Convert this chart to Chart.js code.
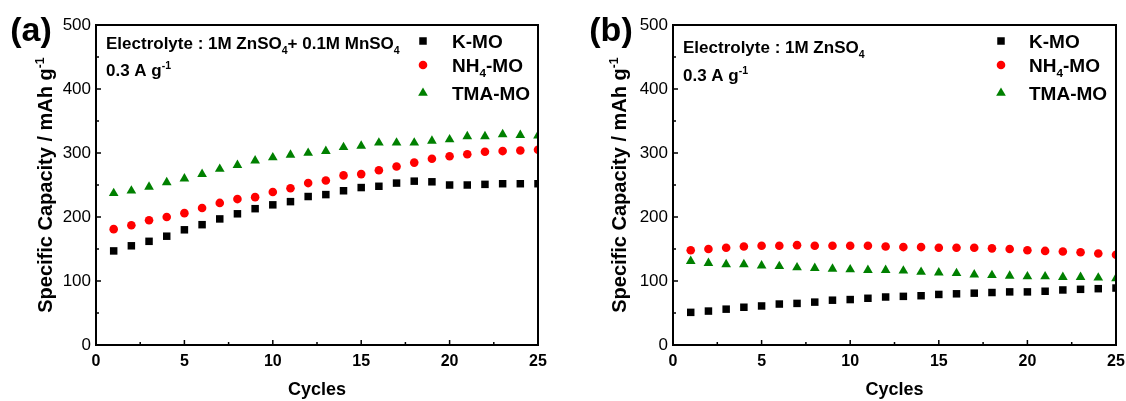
<!DOCTYPE html>
<html>
<head>
<meta charset="utf-8">
<script src="https://cdn.jsdelivr.net/npm/chart.js@4.4.1/dist/chart.umd.min.js"></script>
<style>
html, body { margin: 0; padding: 0; background: #fff; overflow: hidden; }
#wrap { position: relative; width: 1126px; height: 401px; }
canvas { position: absolute; top: 0; }
#chartA { left: 0; }
#chartB { left: 563px; }
</style>
</head>
<body>
<div id="wrap">
	<canvas id="chartA" width="563" height="401"></canvas>
	<canvas id="chartB" width="563" height="401"></canvas>
</div>
<script>
// cycle numbers shared by both panels
const cycles = [1, 2, 3, 4, 5, 6, 7, 8, 9, 10, 11, 12, 13, 14, 15, 16, 17, 18, 19, 20, 21, 22, 23, 24, 25];

// (a) 1M ZnSO4 + 0.1M MnSO4
const kmoA = [147, 155, 162, 170, 180, 188, 197, 205, 213, 219, 224, 232, 235, 241, 246, 248, 253, 256, 255, 250, 250, 251, 252, 252, 252];
const nh4A = [181, 187, 195, 200, 206, 214, 222, 228, 231, 239, 245, 253, 257, 265, 267, 273, 279, 285, 291, 295, 298, 302, 303, 304, 305];
const tmaA = [237, 241, 247, 254, 260, 267, 275, 281, 288, 293, 297, 300, 303, 309, 311, 316, 316, 316, 319, 321, 326, 326, 329, 328, 327];

// (b) 1M ZnSO4
const kmoB = [51, 53, 56, 59, 61, 64, 65, 67, 70, 71, 73, 75, 76, 77, 79, 80, 81, 82, 83, 83, 84, 86, 87, 88, 89];
const nh4B = [148, 150, 152, 154, 155, 155, 156, 155, 155, 155, 155, 154, 153, 153, 152, 152, 152, 151, 150, 148, 147, 146, 145, 143, 141];
const tmaB = [131, 128, 126, 126, 124, 123, 121, 120, 119, 118, 117, 117, 116, 114, 113, 112, 110, 109, 108, 107, 107, 106, 106, 105, 104];

const seriesNames = ['K-MO', 'NH4-MO', 'TMA-MO'];
const xTicks = [0, 5, 10, 15, 20, 25];
const yTicks = [0, 100, 200, 300, 400, 500];

const FONT = "'Liberation Sans', Arial, sans-serif";
Chart.defaults.font.family = FONT;
Chart.defaults.color = '#000';

// rich text: list of [text, kind] where kind is '', 'sub' or 'sup'
function drawRich(ctx, x, y, segs, size, weight) {
	let cx = x;
	for (const [t, kind] of segs) {
		const s = kind ? size * 0.62 : size;
		ctx.font = `${weight} ${s}px ${FONT}`;
		const dy = kind === 'sub' ? size * 0.26 : kind === 'sup' ? -size * 0.42 : 0;
		ctx.fillText(t, cx, y + dy);
		cx += ctx.measureText(t).width;
	}
	return cx - x;
}

function richWidth(ctx, segs, size, weight) {
	let w = 0;
	for (const [t, kind] of segs) {
		ctx.font = `${weight} ${kind ? size * 0.62 : size}px ${FONT}`;
		w += ctx.measureText(t).width;
	}
	return w;
}

function drawMarker(ctx, style, r, x, y, color) {
	ctx.fillStyle = color;
	ctx.beginPath();
	if (style === 'rect') {
		const h = r * Math.SQRT1_2;
		ctx.rect(x - h, y - h, 2 * h, 2 * h);
	} else if (style === 'triangle') {
		let rad = 0;
		for (let i = 0; i < 3; i++) {
			const px = x + Math.sin(rad) * r;
			const py = y - Math.cos(rad) * r;
			if (i === 0) ctx.moveTo(px, py); else ctx.lineTo(px, py);
			rad += Math.PI * 2 / 3;
		}
		ctx.closePath();
	} else {
		ctx.arc(x, y, r, 0, Math.PI * 2);
	}
	ctx.fill();
}

const legendRich = [
	[['K-MO', '']],
	[['NH', ''], ['4', 'sub'], ['-MO', '']],
	[['TMA-MO', '']]
];

const yTitleRich = [['Specific Capacity / mAh g', ''], ['-1', 'sup']];

// frame, inward ticks, panel label, notes, legend, y title
const decorPlugin = {
	id: 'decor',
	afterDraw(chart, _args, opts) {
		const ctx = chart.ctx;
		const { left, right, top, bottom } = chart.chartArea;
		const xs = chart.scales.x;
		const ys = chart.scales.y;
		ctx.save();
		ctx.strokeStyle = '#000';
		ctx.fillStyle = '#000';

		// minor/major ticks pointing into the plot
		ctx.lineWidth = 1.5;
		ctx.beginPath();
		for (let v = 0; v <= 25; v += 2.5) {
			const px = xs.getPixelForValue(v);
			const len = v % 5 === 0 ? 5 : 3;
			ctx.moveTo(px, bottom);
			ctx.lineTo(px, bottom - len);
		}
		for (let v = 0; v <= 500; v += 50) {
			const py = ys.getPixelForValue(v);
			const len = v % 100 === 0 ? 5 : 3;
			ctx.moveTo(left, py);
			ctx.lineTo(left + len, py);
		}
		ctx.stroke();

		ctx.lineWidth = 2;
		ctx.strokeRect(left, top, right - left, bottom - top);

		// panel label
		ctx.textBaseline = 'middle';
		ctx.textAlign = 'center';
		ctx.font = `bold 34px ${FONT}`;
		ctx.fillText(opts.label, opts.labelX, opts.labelY);

		// notes
		ctx.textAlign = 'left';
		ctx.textBaseline = 'alphabetic';
		for (const n of opts.notes) {
			drawRich(ctx, n.x, n.y + 0.36 * 17, n.segs, 17, 'bold');
		}

		// legend
		chart.data.datasets.forEach((ds, i) => {
			const y = opts.legendY[i];
			drawMarker(ctx, ds.pointStyle, ds.pointRadius, opts.legendX, y, ds.backgroundColor);
			ctx.fillStyle = '#000';
			drawRich(ctx, opts.legendTextX, y + 0.36 * 19, legendRich[i], 19, 'bold');
		});

		// rotated y axis title
		const size = 20;
		const w = richWidth(ctx, yTitleRich, size, 'bold');
		ctx.translate(opts.yTitleX, (top + bottom) / 2);
		ctx.rotate(-Math.PI / 2);
		drawRich(ctx, -w / 2, 0.36 * size, yTitleRich, size, 'bold');
		ctx.restore();
	}
};

function makeChart(canvas, values, cfg) {
	const styles = [
		{ pointStyle: 'rect', pointRadius: 5.3, color: '#000000' },
		{ pointStyle: 'circle', pointRadius: 4.3, color: '#ff0000' },
		{ pointStyle: 'triangle', pointRadius: 5.6, color: '#008000' }
	];
	const datasets = values.map((vals, i) => ({
		label: seriesNames[i],
		data: cycles.map((c, j) => ({ x: c, y: vals[j] })),
		pointStyle: styles[i].pointStyle,
		pointRadius: styles[i].pointRadius,
		pointHoverRadius: styles[i].pointRadius,
		backgroundColor: styles[i].color,
		borderColor: styles[i].color,
		borderWidth: 0,
		showLine: false
	}));

	return new Chart(canvas, {
		type: 'scatter',
		data: { datasets },
		options: {
			responsive: false,
			animation: false,
			layout: { padding: { top: 25, right: cfg.padRight, left: 0, bottom: 0 } },
			plugins: {
				legend: { display: false },
				tooltip: { enabled: false },
				decor: cfg.decor
			},
			scales: {
				x: {
					type: 'linear',
					min: 0,
					max: 25,
					afterBuildTicks: s => { s.ticks = xTicks.map(v => ({ value: v })); },
					afterFit: s => {
						s.height = 56;
						// let the layout padding alone decide the right edge
						s.paddingLeft = 0;
						s.paddingRight = 0;
					},
					grid: { display: false, drawTicks: false },
					border: { display: false },
					ticks: { font: { size: 16, weight: 'bold' }, color: '#000', padding: 7, maxRotation: 0 },
					title: {
						display: true,
						text: 'Cycles',
						font: { size: 18, weight: 'bold' },
						color: '#000',
						padding: { top: 0, bottom: 0 }
					}
				},
				y: {
					min: 0,
					max: 500,
					afterBuildTicks: s => { s.ticks = yTicks.map(v => ({ value: v })); },
					afterFit: s => { s.width = cfg.yWidth; },
					grid: { display: false, drawTicks: false },
					border: { display: false },
					ticks: { font: { size: 17 }, color: '#000', padding: 5 }
				}
			}
		},
		plugins: [decorPlugin]
	});
}

makeChart(document.getElementById('chartA'), [kmoA, nh4A, tmaA], {
	yWidth: 96,
	padRight: 25,
	decor: {
		label: '(a)', labelX: 31, labelY: 32,
		yTitleX: 45,
		notes: [
			{ x: 106, y: 43, segs: [['Electrolyte : 1M ZnSO', ''], ['4', 'sub'], ['+ 0.1M MnSO', ''], ['4', 'sub']] },
			{ x: 106, y: 70, segs: [['0.3 A g', ''], ['-1', 'sup']] }
		],
		legendX: 423, legendTextX: 452, legendY: [41, 65, 93]
	}
});

makeChart(document.getElementById('chartB'), [kmoB, nh4B, tmaB], {
	yWidth: 110,
	padRight: 10,
	decor: {
		label: '(b)', labelX: 48, labelY: 32,
		yTitleX: 56,
		notes: [
			{ x: 120, y: 47, segs: [['Electrolyte : 1M ZnSO', ''], ['4', 'sub']] },
			{ x: 120, y: 75, segs: [['0.3 A g', ''], ['-1', 'sup']] }
		],
		legendX: 438, legendTextX: 466, legendY: [41, 65, 93]
	}
});
</script>
</body>
</html>
